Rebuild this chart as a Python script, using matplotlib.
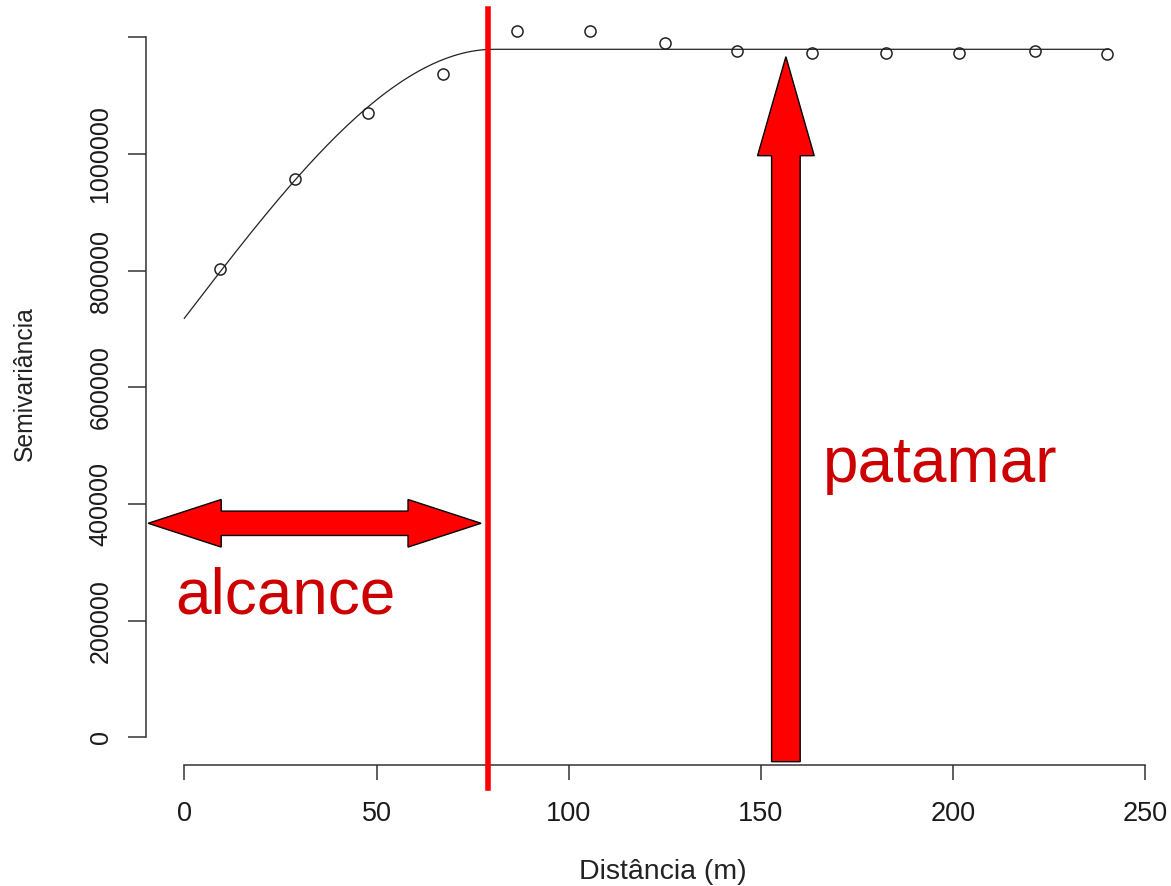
import numpy as np
import matplotlib.pyplot as plt
from matplotlib.patches import Polygon

plt.rcParams['font.family'] = ['Liberation Sans', 'DejaVu Sans']

# Semivariograma experimental
distancia = [9.3, 28.8, 47.9, 67.4, 86.5, 105.5, 125.1, 143.9, 163.2, 182.5, 201.6, 221.3, 240.1]
semivariancia = [802300, 957100, 1070800, 1137100, 1210800, 1210800, 1189800,
                 1176600, 1173700, 1173700, 1173700, 1177100, 1171000]

# Modelo esferico ajustado
efeito_pepita = 718300
contribuicao = 461200
alcance = 80.5
dist_max = 240.5

x_ticks = [0, 50, 100, 150, 200, 250]
y_ticks = [0, 200000, 400000, 600000, 800000, 1000000, 1200000]
y_tick_labels = ['0', '200000', '400000', '600000', '800000', '1000000', '']

# Anotacoes (linha do alcance e setas)
linha_alcance = 79.0
vermelho = '#ff0000'
vermelho_texto = '#cc0000'


def esferico(h):
    r = np.minimum(h / alcance, 1.0)
    return efeito_pepita + contribuicao * (1.5 * r - 0.5 * r ** 3)


W, H = 1171, 886
fig = plt.figure(figsize=(W / 100, H / 100), dpi=100)

xlim = (-10, 260)
ylim = (-48000, 1248000)
# posicao dos eixos em pixels
px0, px1 = 184.3 - 10 * 3.844, 184.3 + 260 * 3.844
py0, py1 = 737.3 + 48000 * 583.3e-6, 737.3 - 1248000 * 583.3e-6
ax = fig.add_axes([px0 / W, 1 - py0 / H, (px1 - px0) / W, (py0 - py1) / H])
ax.set_xlim(xlim)
ax.set_ylim(ylim)

# curva do modelo e pontos
h = np.linspace(0, dist_max, 400)
ax.plot(h, esferico(h), color='#222222', lw=0.9, zorder=2)
ax.plot(distancia, semivariancia, 'o', mfc='none', mec='#222222', mew=1.1, ms=8, zorder=3)

# estilo de eixos do R
for s in ['top', 'right']:
    ax.spines[s].set_visible(False)
ax.spines['left'].set_bounds(0, 1200000)
ax.spines['bottom'].set_bounds(0, 250)
for s in ['left', 'bottom']:
    ax.spines[s].set_linewidth(1.1)
    ax.spines[s].set_color('#333333')

ax.set_xticks(x_ticks)
ax.set_xticklabels([str(v) for v in x_ticks])
ax.set_yticks(y_ticks)
ax.set_yticklabels(y_tick_labels, rotation=90, va='center')
ax.tick_params(axis='x', length=10.8, width=1.1, color='#333333', pad=15,
               labelsize=19.5, labelcolor='#1a1a1a')
ax.tick_params(axis='y', length=13, width=1.1, color='#333333', pad=11,
               labelsize=18, labelcolor='#1a1a1a')

fig.text(663 / W, 1 - 872 / H, 'Distância (m)', ha='center', va='center',
         fontsize=20.5, color='#222222')
fig.text(25 / W, 1 - 384 / H, 'Semivariância', rotation=90, ha='center', va='center',
         fontsize=17.8, color='#222222')

# linha vertical marcando o alcance
ax.plot([linha_alcance, linha_alcance], [1248600, -86900], color=vermelho, lw=4,
        clip_on=False, zorder=4)

# seta dupla horizontal (alcance)
x0, x1, yc = -9.4, 77.2, 366900
cab, meia_cab, meia_haste = 19.0, 40800, 20900
seta_h = [(x0, yc), (x0 + cab, yc + meia_cab), (x0 + cab, yc + meia_haste),
          (x1 - cab, yc + meia_haste), (x1 - cab, yc + meia_cab), (x1, yc),
          (x1 - cab, yc - meia_cab), (x1 - cab, yc - meia_haste),
          (x0 + cab, yc - meia_haste), (x0 + cab, yc - meia_cab)]
ax.add_patch(Polygon(seta_h, closed=True, fc=vermelho, ec='black', lw=1.0,
                     clip_on=False, zorder=5))

# seta vertical (patamar)
xc, y0, y1 = 156.5, -41800, 1166800
cab_v, meia_cab_v, meia_haste_v = 169700, 7.37, 3.72
seta_v = [(xc - meia_haste_v, y0), (xc + meia_haste_v, y0),
          (xc + meia_haste_v, y1 - cab_v), (xc + meia_cab_v, y1 - cab_v),
          (xc, y1), (xc - meia_cab_v, y1 - cab_v), (xc - meia_haste_v, y1 - cab_v)]
ax.add_patch(Polygon(seta_v, closed=True, fc=vermelho, ec='black', lw=1.0,
                     clip_on=False, zorder=5))

ax.text(-2.4, 212600, 'alcance', fontsize=46, color=vermelho_texto, va='baseline', zorder=6)
ax.text(166.2, 438200, 'patamar', fontsize=46, color=vermelho_texto, va='baseline', zorder=6)

fig.savefig('out.png', dpi=100)
